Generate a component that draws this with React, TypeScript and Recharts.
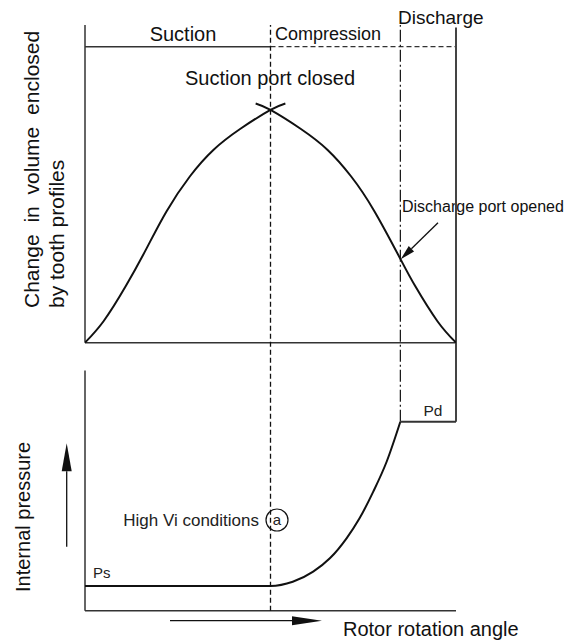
import { ComposedChart, Line, XAxis, YAxis, ReferenceLine } from 'recharts';

// rotor angle runs 0..100 over one tooth space, volume peak = 1, pressure Ps = 1
const suctionAngle = [0, 5, 11, 16.6, 22, 28.3, 34.6, 41.8, 50, 54];
const suctionVolume = [0, 0.092, 0.243, 0.405, 0.565, 0.715, 0.828, 0.918, 1.0, 1.028];
const closingAngle = [46, 50, 58.2, 65.4, 71.7, 78, 85, 89, 95, 100];
const closingVolume = [1.028, 1.0, 0.918, 0.828, 0.715, 0.565, 0.36, 0.243, 0.092, 0];
const pressureAngle = [0, 50, 56, 61.5, 66, 70.5, 74, 77.7, 81.3, 85];
const pressureValues = [1, 1, 1.17, 1.58, 2.12, 2.93, 3.74, 4.82, 6.03, 7.65];
const dischargeAngle = [85, 100];
const dischargePressure = [7.65, 7.65];

const portClosedAngle = 50;
const portOpenedAngle = 85;
const endAngle = 100;
const stageLineVolume = 1.272;
const volumeTop = 1.365;
const pressurePanelTop = 9.72;
const pressureTop = 23.71;

const toPoints = (xs: number[], ys: number[], key: string) =>
  xs.map((x, i) => ({ x, [key]: ys[i] }));

const suctionData = toPoints(suctionAngle, suctionVolume, 'v');
const closingData = toPoints(closingAngle, closingVolume, 'v');
const pressureData = toPoints(pressureAngle, pressureValues, 'p');
const dischargeData = toPoints(dischargeAngle, dischargePressure, 'p');

const FONT = 'Liberation Sans, Arial, Helvetica, sans-serif';
const INK = '#111';
const FRAME = '#333';

function Arrow({ x1, y1, x2, y2, len, half }: { x1: number; y1: number; x2: number; y2: number; len: number; half: number }) {
  const dx = x2 - x1;
  const dy = y2 - y1;
  const d = Math.hypot(dx, dy);
  const ux = dx / d;
  const uy = dy / d;
  const bx = x2 - ux * len;
  const by = y2 - uy * len;
  const pts = `${x2},${y2} ${bx - uy * half},${by + ux * half} ${bx + uy * half},${by - ux * half}`;
  return (
    <g>
      <line x1={x1} y1={y1} x2={bx} y2={by} stroke={INK} strokeWidth={1.3} />
      <polygon points={pts} fill={INK} />
    </g>
  );
}

function Notes() {
  return (
    <g fontFamily={FONT} fill={INK}>
      <text x={183} y={40.5} fontSize={20} textAnchor="middle">Suction</text>
      <text x={275} y={39.5} fontSize={18}>Compression</text>
      <text x={398} y={24} fontSize={19}>Discharge</text>
      <text x={270} y={85} fontSize={20} textAnchor="middle">Suction port closed</text>
      <text x={402} y={211.5} fontSize={16}>Discharge port opened</text>
      <Arrow x1={438} y1={222.7} x2={400.7} y2={259.3} len={15} half={3.8} />
      <text x={433} y={416} fontSize={15.5} textAnchor="middle" fill="#222">Pd</text>
      <text x={93} y={578} fontSize={15} fill="#222">Ps</text>
      <text x={259} y={526} fontSize={17} textAnchor="end" fill="#222">High Vi conditions</text>
      <circle cx={277} cy={520} r={11} fill="none" stroke={INK} strokeWidth={1.2} />
      <text x={277} y={525} fontSize={15} textAnchor="middle" fill="#222">a</text>
      <text x={343} y={636} fontSize={20}>Rotor rotation angle</text>
      <Arrow x1={170} y1={620.7} x2={322} y2={620.7} len={30} half={4.5} />
      <text transform="translate(39,308) rotate(-90)" fontSize={21} wordSpacing={6}>Change in volume enclosed</text>
      <text transform="translate(63.5,308) rotate(-90)" fontSize={21}>by tooth profiles</text>
      <text transform="translate(30,592) rotate(-90)" fontSize={20}>Internal pressure</text>
      <Arrow x1={66.7} y1={546.7} x2={66.7} y2={443.3} len={28} half={5} />
    </g>
  );
}

export default function App() {
  return (
    <div style={{ position: 'absolute', left: 0, top: 0, background: '#fff' }}>
      <ComposedChart width={578} height={642} margin={{ top: 25, right: 122, bottom: 31.3, left: 85 }}>
        <XAxis type="number" dataKey="x" domain={[0, endAngle]} allowDataOverflow hide />
        <YAxis yAxisId="vol" type="number" domain={[-1.152, volumeTop]} allowDataOverflow hide />
        <YAxis yAxisId="pres" type="number" domain={[0, pressureTop]} allowDataOverflow hide />

        {/* volume panel frame */}
        <ReferenceLine yAxisId="vol" ifOverflow="visible" segment={[{ x: 0, y: 0 }, { x: 0, y: volumeTop }]} stroke={FRAME} strokeWidth={1.5} />
        <ReferenceLine yAxisId="vol" ifOverflow="visible" segment={[{ x: 0, y: 0 }, { x: endAngle, y: 0 }]} stroke={FRAME} strokeWidth={1.5} />
        <ReferenceLine yAxisId="vol" ifOverflow="visible" segment={[{ x: 0, y: stageLineVolume }, { x: portClosedAngle, y: stageLineVolume }]} stroke={FRAME} strokeWidth={1.5} />
        <ReferenceLine yAxisId="vol" ifOverflow="visible" segment={[{ x: portClosedAngle, y: stageLineVolume }, { x: endAngle, y: stageLineVolume }]} stroke={FRAME} strokeWidth={1.3} strokeDasharray="5 3" />

        {/* pressure panel frame */}
        <ReferenceLine yAxisId="pres" ifOverflow="visible" segment={[{ x: 0, y: 0 }, { x: 0, y: pressurePanelTop }]} stroke={FRAME} strokeWidth={1.5} />
        <ReferenceLine yAxisId="pres" ifOverflow="visible" segment={[{ x: 0, y: 0 }, { x: endAngle, y: 0 }]} stroke={FRAME} strokeWidth={1.5} />
        <ReferenceLine yAxisId="pres" ifOverflow="visible" segment={[{ x: endAngle, y: dischargePressure[1] }, { x: endAngle, y: pressureTop - 0.1 }]} stroke="#444" strokeWidth={2} />

        {/* port events */}
        <ReferenceLine yAxisId="vol" ifOverflow="visible" x={portClosedAngle} stroke={INK} strokeWidth={1.3} strokeDasharray="5 3" />
        <ReferenceLine yAxisId="pres" ifOverflow="visible" segment={[{ x: portOpenedAngle, y: dischargePressure[0] }, { x: portOpenedAngle, y: pressureTop }]} stroke={INK} strokeWidth={1.2} strokeDasharray="12 3 2 3" />

        <Line yAxisId="vol" data={suctionData} dataKey="v" type="natural" stroke={INK} strokeWidth={2} dot={false} isAnimationActive={false} />
        <Line yAxisId="vol" data={closingData} dataKey="v" type="natural" stroke={INK} strokeWidth={2} dot={false} isAnimationActive={false} />
        <Line yAxisId="pres" data={pressureData} dataKey="p" type="monotone" stroke={INK} strokeWidth={2} dot={false} isAnimationActive={false} />
        <Line yAxisId="pres" data={dischargeData} dataKey="p" type="linear" stroke={FRAME} strokeWidth={1.8} dot={false} isAnimationActive={false} />

        <Notes />
      </ComposedChart>
    </div>
  );
}
